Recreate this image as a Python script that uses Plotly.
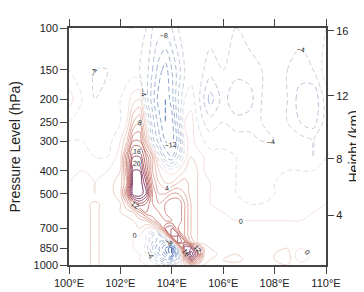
import math
import plotly.graph_objects as go

# ---------------- data ----------------
lon = [100, 100.5, 101, 101.5, 102, 102.25, 102.5, 102.75, 103, 103.25, 103.5, 103.75,
       104, 104.25, 104.5, 104.75, 105, 105.25, 105.5, 106, 106.5, 107, 107.5, 108,
       108.5, 109, 109.5, 110]
lev = [100, 150, 200, 250, 300, 350, 400, 450, 500, 550, 600, 650, 700, 750, 800, 850, 900, 950, 1000]

w100 = [-3, -4, -3, -2, -3, -4, -4, -3, -4, -6, -7, -7, -6, -4, -3, -2, -3, -3, -3, -3, -4, -3, -2, -3, -3, -3, -2, -2]
w150 = [-2, -3, -4, -4, -3, -3, -3, -4, -5, -8, -11, -13, -10, -7, -4, -3, -3, -4, -5, -4, -5, -5, -4, -3, -4, -5, -4, -1]
w200 = [1, -2, -4, -3, -2, -1, 1, 2, -5, -9, -13, -14, -11, -6, -2, -1, -3, -6, -9, -5, -8, -7, -4, -3, -4, -7, -8, -3]
w250 = [-2, -3, -3, -4, -2, 0, 6, 8, 0, -7, -11, -14, -13, -7, 0, 1, -2, -4, -5, -4, -5, -5, -4, -3, -4, -6, -7, -3]
w300 = [-2, -2, -3, -3, 0, 4, 12, 12, 4, -5, -9, -12, -13, -9, -1, 1, -1, -2, -3, -3, -3, -3, -4, -4, -3, -3, -4, -3]
w350 = [-1, -1, -2, -2, 1, 10, 18, 18, 12, 6, -3, -8, -10, -6, -1, 2, 1, 0, -1, -1, -2, -2, -3, -3, -3, -3, -4, -2]
w400 = [0, 0, -1, 0, 2, 10, 22, 22, 14, 6, 2, 0, -1, 0, 2, 3, 2, 0, -1, -1, -2, -2, -2, -2, -2, -2, -2, -1]
w450 = [0, 1, 0, 1, 3, 8, 24, 24, 18, 8, 4, 2, 2, 4, 5, 3, 2, 1, 0, -1, -2, -3, -2, -2, -1, -1, -1, 0]
w500 = [1, 1, 0, 1, 3, 12, 24, 24, 20, 10, 6, 6, 8, 8, 6, 3, 2, 1, 0, -1, -2, -4, -3, -2, -1, -1, 0, 0]
w550 = [1, 1, 2.5, 1, 2, 6, 12, 16, 14, 10, 8, 10, 12, 12, 8, 4, 2, 1, 0, 0, -1, -2, -2, -1, -1, 0, 0, 0]
w600 = [1, 1, 2.5, 1, 2, 3, 4, 8, 12, 12, 10, 10, 12, 12, 8, 4, 2, 1, 1, 0, 0, 0, -1, 0, 0, 0, 0, 1]
w650 = [1, 1, 2.5, 1, 1, 1, 2, 3, 4, 8, 12, 10, 10, 12, 8, 4, 2, 1, 1, 1, 0, 0, 0, 0, 0, 0, 1, 1]
w700 = [1, 1, 2.5, 1, 1, 1, 1, 2, 0, 0, 4, 14, 16, 10, 8, 4, 2, 1, 1, 1, 1, 1, 1, 1, 1, 1, 1, 1]
w750 = [1, 1, 2.5, 1, 1, 1, 0, 0, -2, -6, -8, 0, 18, 16, 8, 4, 2, 1, 1, 1, 1, 1, 1, 1, 1, 1, 1, 1]
w800 = [1, 1, 2.5, 1, 1, 1, 0, 0, -2, -6, -10, -12, -4, 18, 14, 6, 2, 1, 1, 1, 1, 1, 1, 1, 1, 1, 1, 1]
w850 = [1, 1, 2.5, 1, 1, 1, 0, 0, -3, -8, -12, -16, -20, -4, 20, 20, 12, 4, 2, 1, 1, 1, 1, 1, 2, 0, 2, 1]
w900 = [1, 1, 2.5, 1, 1, 1, 1, 0, -2, -6, -10, -14, -20, -8, 10, 24, 16, 4, 3, 1, 2, 1, 1, 2, 3, -2, 1, 1]
w950 = [1, 1, 2.5, 1, 1, 1, 1, 0, 0, -3, -6, -10, -12, -6, 6, 16, 10, 3, 2, 2, 3, 1, 1, 2, 3, -1, 1, 1]
w1000 = [1, 1, 2.5, 1, 1, 1, 1, 1, 0, 0, -2, -4, -6, -2, 2, 6, 4, 2, 1, 1, 1, 1, 1, 1, 2, 1, 1, 1]

lon_ticks = [100, 102, 104, 106, 108, 110]
lon_labels = ["100°E", "102°E", "104°E", "106°E", "108°E", "110°E"]
p_ticks = [100, 150, 200, 250, 300, 400, 500, 700, 850, 1000]
h_ticks_km = [4, 8, 12, 16]

# ---------------- build ----------------
z = [w100, w150, w200, w250, w300, w350, w400, w450, w500, w550, w600, w650,
     w700, w750, w800, w850, w900, w950, w1000]


def std_pressure(h_km):
    h = h_km * 1000.0
    if h <= 11000:
        return 1013.25 * (1 - 2.25577e-5 * h) ** 5.25588
    return 226.32 * math.exp(-(h - 11000) / 6341.6)


h_tickvals = [std_pressure(h) for h in h_ticks_km]

# line colour stops (level -> colour)
stops = [(-24, "#1f3a8a"), (-20, "#2a4a9a"), (-16, "#4f70b8"), (-12, "#7f9cc9"),
         (-8, "#a3b6d3"), (-4, "#c3cbd8"), (-2, "#dadee6"), (0, "#f1dcd7"),
         (2, "#ecc9c1"), (4, "#e5b5a9"), (8, "#d6958a"), (12, "#c27369"),
         (16, "#a84f5a"), (20, "#83325d"), (24, "#5a1d52")]


def hex2rgb(h):
    return tuple(int(h[i:i + 2], 16) for i in (1, 3, 5))


def level_color(v):
    for (a, ca), (b, cb) in zip(stops[:-1], stops[1:]):
        if a <= v <= b:
            t = (v - a) / (b - a) if b != a else 0
            ra, rb = hex2rgb(ca), hex2rgb(cb)
            c = [round(ra[i] + t * (rb[i] - ra[i])) for i in range(3)]
            return "rgb(%d,%d,%d)" % tuple(c)
    return stops[0][1] if v < stops[0][0] else stops[-1][1]


FONT = "Liberation Sans, Arial, Helvetica, sans-serif"


def ctrace(start, end, labels, dash):
    levels = list(range(start, end + 1, 4))
    cs = [[(L - start) / (end - start), level_color(L)] for L in levels]
    return go.Contour(
        x=lon, y=lev, z=z,
        colorscale=cs, showscale=False,
        contours=dict(coloring="lines", start=start, end=end, size=4,
                      showlabels=labels,
                      labelfont=dict(size=7, color="#222", family=FONT)),
        line=dict(width=0.9, dash=dash, smoothing=1),
        hoverinfo="skip",
    )


fig = go.Figure()
fig.add_trace(ctrace(-22, -2, False, "5px,3px"))
fig.add_trace(ctrace(2, 22, False, "solid"))
fig.add_trace(ctrace(-24, -4, True, "5px,3px"))
fig.add_trace(ctrace(0, 24, True, "solid"))
fig.add_trace(go.Scatter(x=[105], y=[500], yaxis="y2", mode="markers",
                         marker=dict(opacity=0), hoverinfo="skip", showlegend=False))

axis_common = dict(showgrid=False, zeroline=False, linecolor="#444", linewidth=1.5,
                   ticks="outside", ticklen=7, tickcolor="#444", tickwidth=1.2,
                   tickfont=dict(size=11, color="#222", family=FONT))

fig.update_layout(
    width=364, height=292,
    margin=dict(l=61, r=46, t=11, b=25),
    paper_bgcolor="white", plot_bgcolor="white",
    showlegend=False,
    font=dict(family=FONT, color="#222"),
    xaxis=dict(range=[100, 110], tickvals=lon_ticks, ticktext=lon_labels,
               mirror="ticks", **axis_common),
    yaxis=dict(type="log", range=[3, 2], tickvals=p_ticks,
               ticktext=[str(p) for p in p_ticks], mirror=True,
               **axis_common),
    yaxis2=dict(type="log", range=[3, 2], overlaying="y", side="right",
                tickvals=h_tickvals, ticktext=[str(h) for h in h_ticks_km],
                showgrid=False, zeroline=False, showline=False,
                ticks="outside", ticklen=7, tickcolor="#444", tickwidth=1.2,
                tickfont=dict(size=11, color="#222", family=FONT)),
    annotations=[
        dict(text="Pressure Level (hPa)", xref="paper", yref="paper", x=0, y=0.5,
             xanchor="center", yanchor="middle", xshift=-55, textangle=-90,
             showarrow=False, font=dict(size=14, family=FONT, color="#222")),
        dict(text="Height (km)", xref="paper", yref="paper", x=1, y=0.5,
             xanchor="center", yanchor="middle", xshift=27, textangle=-90,
             showarrow=False, font=dict(size=14, family=FONT, color="#222")),
    ],
)

fig.write_html("out.html")
